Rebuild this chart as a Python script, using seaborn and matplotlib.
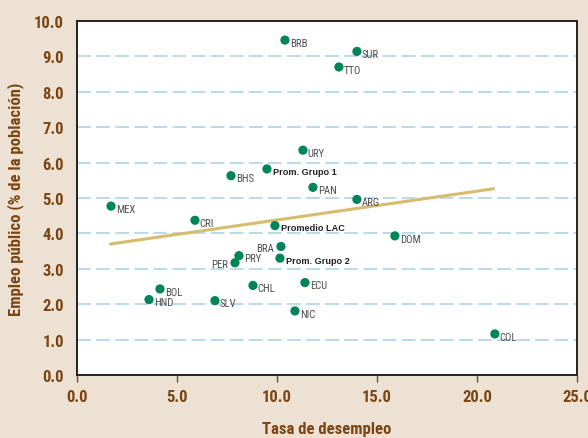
import matplotlib
matplotlib.use("Agg")
import matplotlib.pyplot as plt
import seaborn as sns
import pandas as pd

# valores
codigos = ['BRB', 'SUR', 'TTO', 'URY', 'Prom. Grupo 1', 'BHS', 'PAN', 'MEX', 'CRI',
           'Promedio LAC', 'BRA', 'Prom. Grupo 2', 'PRY', 'PER', 'CHL', 'ECU', 'BOL',
           'HND', 'SLV', 'NIC', 'ARG', 'DOM', 'COL']
desempleo = [10.4, 14.0, 13.1, 11.3, 9.5, 7.7, 11.8, 1.7, 5.9,
             9.9, 10.2, 10.15, 8.1, 7.9, 8.8, 11.4, 4.15,
             3.6, 6.9, 10.9, 14.0, 15.9, 20.9]
empleo_publico = [9.46, 9.14, 8.70, 6.35, 5.82, 5.63, 5.30, 4.77, 4.37,
                  4.22, 3.63, 3.30, 3.37, 3.17, 2.53, 2.61, 2.43,
                  2.13, 2.10, 1.81, 4.96, 3.93, 1.16]
promedios = ['Prom. Grupo 1', 'Promedio LAC', 'Prom. Grupo 2']
etiqueta_izq = ['PER', 'BRA']

tendencia_x = [1.67, 20.83]
tendencia_y = [3.70, 5.26]

x_ticks = [0, 5, 10, 15, 20, 25]
y_ticks = [0, 1, 2, 3, 4, 5, 6, 7, 8, 9, 10]

df = pd.DataFrame({'codigo': codigos, 'x': desempleo, 'y': empleo_publico})
tend = pd.DataFrame({'x': tendencia_x, 'y': tendencia_y})

sns.set_style("white")
plt.rcParams['font.family'] = ['Roboto Condensed', 'DejaVu Sans']

fondo = '#EDE1D3'
marron = '#7A4512'

fig = plt.figure(figsize=(5.88, 4.39), dpi=100, facecolor=fondo)
ax = fig.add_axes([0.131, 0.1435, 0.850, 0.8065])
ax.set_facecolor('white')

for yy in y_ticks[1:-1]:
    ax.axhline(yy, color='#A9CFE3', lw=1.1, dashes=(9, 3.5), zorder=0)

sns.lineplot(data=tend, x='x', y='y', ax=ax, color='#D6BC6C', lw=2.2, zorder=2)
sns.scatterplot(data=df, x='x', y='y', ax=ax, color='#00855A', s=44,
                edgecolor='none', zorder=3)

for c, xv, yv in zip(codigos, desempleo, empleo_publico):
    if c in promedios:
        ax.annotate(c, (xv, yv), xytext=(4, -1.5), textcoords='offset points',
                    va='center', ha='left', fontsize=6.6, fontweight='bold',
                    color='#222222', family=['Liberation Sans', 'DejaVu Sans'])
    elif c in etiqueta_izq:
        ax.annotate(c, (xv, yv), xytext=(-5, -1), textcoords='offset points',
                    va='center', ha='right', fontsize=7.7, color='#4d4d4d')
    else:
        ax.annotate(c, (xv, yv), xytext=(3.5, -2), textcoords='offset points',
                    va='center', ha='left', fontsize=7.7, color='#4d4d4d')

ax.set_xlim(0, 25)
ax.set_ylim(0, 10)
ax.set_xticks(x_ticks)
ax.set_yticks(y_ticks)
ax.set_xticklabels([f'{v:.1f}' for v in x_ticks])
ax.set_yticklabels([f'{v:.1f}' for v in y_ticks])
ax.tick_params(axis='x', which='both', bottom=True, length=5, width=1,
               color='#555555', labelsize=12, labelcolor=marron, pad=5)
ax.tick_params(axis='y', left=False, labelsize=12, labelcolor=marron, pad=6)
for lab in ax.get_xticklabels() + ax.get_yticklabels():
    lab.set_fontweight('bold')

ax.set_xlabel('Tasa de desempleo', fontsize=12, fontweight='bold', color=marron, labelpad=12)
ax.set_ylabel('Empleo público (% de la población)', fontsize=12, fontweight='bold',
              color=marron, labelpad=7)

for s in ax.spines.values():
    s.set_color('#222222')
    s.set_linewidth(1.4)

fig.savefig('out.png', dpi=100, facecolor=fondo)
